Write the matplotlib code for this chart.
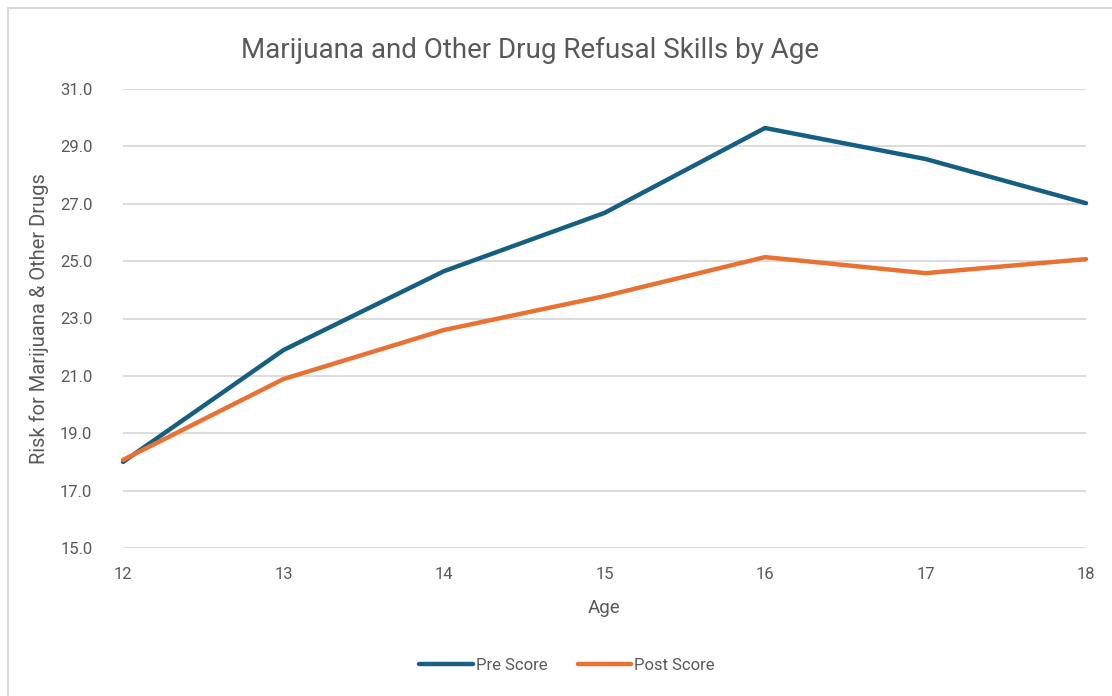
import matplotlib
matplotlib.use("Agg")
import matplotlib.pyplot as plt
from matplotlib.patches import Rectangle

ages = [12, 13, 14, 15, 16, 17, 18]
pre_score = [18.0, 21.9, 24.65, 26.68, 29.64, 28.56, 27.02]
post_score = [18.07, 20.89, 22.6, 23.78, 25.14, 24.58, 25.07]
y_ticks = [15.0, 17.0, 19.0, 21.0, 23.0, 25.0, 27.0, 29.0, 31.0]

plt.rcParams['font.family'] = ['Liberation Sans Narrow', 'Roboto', 'DejaVu Sans']

fig = plt.figure(figsize=(11.12, 6.96), dpi=100)
fig.patches.append(Rectangle((8/1112, -0.01), 1.02, 1 - 8/696 + 0.01, transform=fig.transFigure,
                             fill=False, edgecolor='#d9d9d9', linewidth=1.5))
ax = fig.add_axes([123/1112, 1 - 548/696, (1086 - 123)/1112, (548 - 89)/696])

ax.plot(ages, pre_score, color='#156082', lw=3.2, label='Pre Score', solid_capstyle='round', clip_on=False)
ax.plot(ages, post_score, color='#E97132', lw=3.2, label='Post Score', solid_capstyle='round', clip_on=False)

ax.set_xlim(12, 18)
ax.set_ylim(15, 31)
ax.set_yticks(y_ticks)
ax.set_yticklabels([f"{v:.1f}" for v in y_ticks])
ax.set_xticks(ages)
ax.grid(axis='y', color='#d9d9d9', lw=1.3)
ax.set_axisbelow(True)
for s in ax.spines.values():
    s.set_visible(False)
ax.tick_params(length=0, labelsize=12, colors='#595959')
ax.tick_params(axis='y', pad=22)
ax.tick_params(axis='x', pad=14)

ax.set_xlabel('Age', fontsize=13.5, color='#595959', labelpad=12)
ax.set_ylabel('Risk for Marijuana & Other Drugs', fontsize=14.5, color='#595959', labelpad=8)
fig.text(530/1112, 1 - 50/696, 'Marijuana and Other Drug Refusal Skills by Age', ha='center', va='center',
         fontsize=20, color='#595959')

leg = fig.legend(loc='center', bbox_to_anchor=(567/1112, 1 - 665/696), ncol=2, frameon=False,
                 fontsize=12, handlelength=3.2, handletextpad=0.2, columnspacing=1.8)
for t in leg.get_texts():
    t.set_color('#595959')

fig.savefig('out.png', dpi=100)
